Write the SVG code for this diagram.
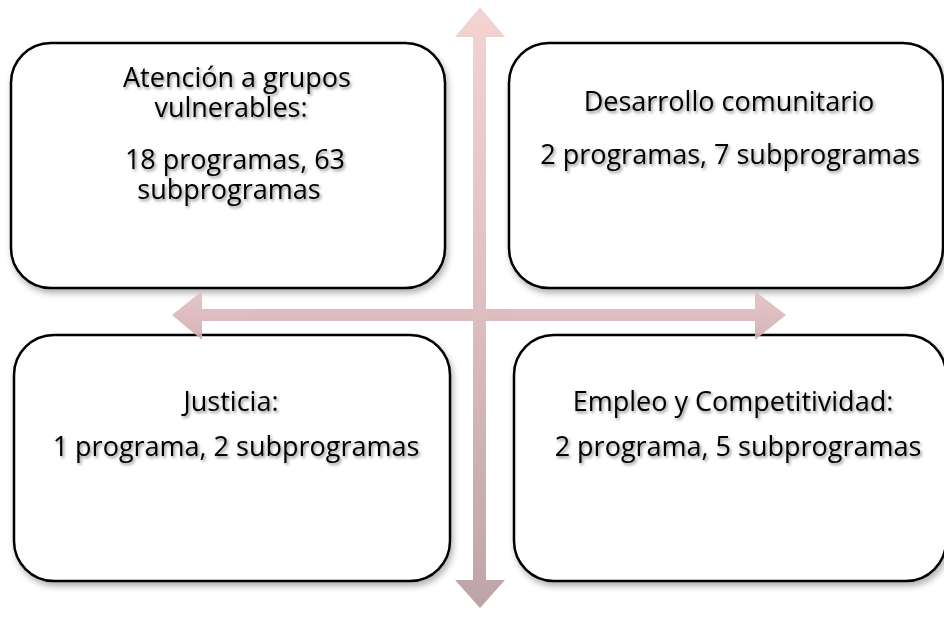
<svg xmlns="http://www.w3.org/2000/svg" width="944" height="621" viewBox="0 0 944 621">
<defs>
<filter id="bs" x="-10%" y="-10%" width="120%" height="125%">
<feDropShadow dx="2" dy="4" stdDeviation="3" flood-color="#000" flood-opacity="0.3"/>
</filter>
<filter id="ts" x="-10%" y="-30%" width="120%" height="160%">
<feDropShadow dx="1.5" dy="2" stdDeviation="1.5" flood-color="#000" flood-opacity="0.45"/>
</filter>
<linearGradient id="gv" gradientUnits="userSpaceOnUse" x1="0" y1="7" x2="0" y2="608">
<stop offset="0" stop-color="#f3cfcf"/>
<stop offset="0.5" stop-color="#dcb9bc"/>
<stop offset="1" stop-color="#b89ca1"/>
</linearGradient>
<linearGradient id="gh" gradientUnits="userSpaceOnUse" x1="0" y1="291" x2="0" y2="340">
<stop offset="0" stop-color="#e4c0c2"/>
<stop offset="1" stop-color="#d2aeb2"/>
</linearGradient>
</defs>
<style>
.box{fill:#fff;stroke:#000;stroke-width:2.5;filter:url(#bs)}
.t{font-family:"Open Sans","Liberation Sans",Arial,sans-serif;font-size:27px;fill:#000;text-anchor:middle;filter:url(#ts)}
</style>
<g id="node-atencion">
<rect class="box" x="11" y="43" width="434" height="245" rx="40"/>
<text class="t"><tspan x="237" y="87">Atención a grupos</tspan><tspan x="231" y="117">vulnerables:</tspan></text>
<text class="t"><tspan x="235" y="169">18 programas, 63</tspan><tspan x="229" y="199">subprogramas</tspan></text>
</g>
<g id="node-desarrollo">
<rect class="box" x="509" y="43" width="434" height="245" rx="40"/>
<text class="t" x="729" y="111">Desarrollo comunitario</text>
<text class="t" x="730" y="164">2 programas, 7 subprogramas</text>
</g>
<g id="node-justicia">
<rect class="box" x="14" y="335" width="436" height="246" rx="40"/>
<text class="t" x="231" y="411">Justicia:</text>
<text class="t" x="236" y="456">1 programa, 2 subprogramas</text>
</g>
<g id="node-empleo">
<rect class="box" x="514" y="335" width="432" height="246" rx="40"/>
<text class="t" x="733" y="411">Empleo y Competitividad:</text>
<text class="t" x="738" y="456">2 programa, 5 subprogramas</text>
</g>
<g id="connectors" opacity="0.92">
<polygon fill="url(#gh)" points="172,315 202,291 202,309 755,309 755,291 786,315 755,340 755,321 202,321 202,340"/>
<polygon fill="url(#gv)" points="480,7 505,37 486,37 486,580 505,580 480,608 455,580 473,580 473,37 455,37"/>
</g>
</svg>
